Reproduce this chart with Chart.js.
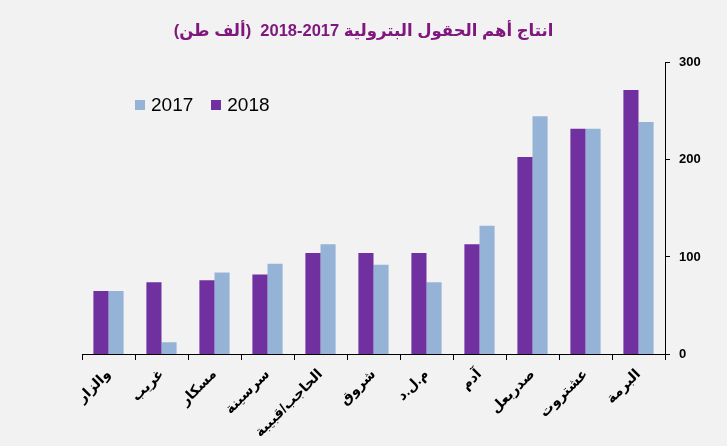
<!DOCTYPE html>
<html>
<head>
<meta charset="utf-8">
<script src="https://cdn.jsdelivr.net/npm/chart.js@4"></script>
<style>
  html, body { margin: 0; padding: 0; background: #f2f2f2; }
  #wrap { position: relative; width: 727px; height: 446px; }
  #legend {
    position: absolute; left: 135px; top: 94px;
    display: flex; align-items: center;
    font-family: "Liberation Sans", Arial, sans-serif; font-size: 19px; color: #000;
  }
  #legend .sw { display: inline-block; width: 10px; height: 10px; margin-right: 6px; }
  #legend .item { display: flex; align-items: center; margin-right: 18px; }
</style>
</head>
<body>
<div id="wrap">
  <canvas id="chart" dir="rtl" width="727" height="446"></canvas>
  <div id="legend"></div>
</div>
<script>
const categories = ['والزار', 'غريب', 'مسكار', 'سرسينة', 'الحاجب/قبيبة', 'شروق', 'م.ل.د', 'آدم', 'صدربعل', 'عشتروت', 'البرمة'];
const values2018 = [65, 74, 76, 82, 104, 104, 104, 113, 203, 232, 272];
const values2017 = [65, 12, 84, 93, 113, 92, 74, 132, 245, 232, 239];
const yTicks = [0, 100, 200, 300];
const seriesNames = ['2017', '2018'];
const color2017 = '#95b3d7';
const color2018 = '#7030a0';

const arabicFont = '"Liberation Sans", "DejaVu Sans", sans-serif';

// html legend, 2017 first like the original
document.getElementById('legend').innerHTML = [
  [seriesNames[0], color2017],
  [seriesNames[1], color2018]
].map(([name, c]) => `<span class="item"><span class="sw" style="background:${c}"></span>${name}</span>`).join('');

const ctx = document.getElementById('chart').getContext('2d');
new Chart(ctx, {
  type: 'bar',
  data: {
    labels: categories,
    datasets: [
      { label: seriesNames[1], data: values2018, backgroundColor: color2018, borderWidth: 0,
        categoryPercentage: 0.57, barPercentage: 1.0 },
      { label: seriesNames[0], data: values2017, backgroundColor: color2017, borderWidth: 0,
        categoryPercentage: 0.57, barPercentage: 1.0 }
    ]
  },
  options: {
    responsive: false,
    animation: false,
    layout: { padding: 0 },
    plugins: {
      legend: { display: false },
      tooltip: { enabled: false },
      title: {
        display: true,
        text: 'انتاج أهم الحقول البترولية 2017-2018  (ألف طن)',
        color: '#80177f',
        font: { family: arabicFont, size: 16.5, weight: 'bold' },
        padding: { top: 22, bottom: 21 }
      }
    },
    scales: {
      x: {
        grid: { offset: true, drawOnChartArea: false, drawTicks: true, tickLength: 6, color: '#000' },
        border: { color: '#000', width: 1 },
        ticks: {
          minRotation: 45, maxRotation: 45, color: '#000', padding: 6,
          font: { family: arabicFont, size: 14, weight: 'bold' }
        },
        afterFit: (scale) => { scale.height = 92; }
      },
      // empty left gutter so the plot starts where the original does
      gutter: {
        type: 'linear', position: 'left', display: true,
        ticks: { display: false }, grid: { display: false }, border: { display: false },
        afterFit: (scale) => { scale.width = 82; }
      },
      y: {
        position: 'right',
        min: 0, max: 300,
        afterBuildTicks: (scale) => { scale.ticks = yTicks.map(v => ({ value: v })); },
        grid: { drawOnChartArea: false, drawTicks: true, tickLength: 5, color: '#000' },
        border: { color: '#000', width: 1 },
        ticks: {
          color: '#000', padding: 9,
          font: { family: '"Liberation Sans", Arial, sans-serif', size: 13, weight: 'bold' }
        },
        afterFit: (scale) => { scale.width = 62; }
      }
    }
  }
});
</script>
</body>
</html>
